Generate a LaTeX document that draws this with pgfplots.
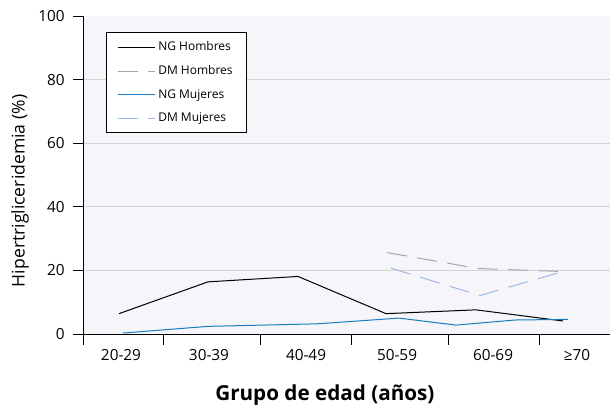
\documentclass[border=0pt]{standalone}
\usepackage{fontspec}
\setmainfont{Open Sans}
\usepackage{pgfplots}
\pgfplotsset{compat=1.18}

\definecolor{bgc}{HTML}{F5F5FA}
\definecolor{gridc}{HTML}{D4D4D4}
\definecolor{ngm}{HTML}{1A7CC1}
\definecolor{dmm}{HTML}{9DB7E2}
\definecolor{dmh}{HTML}{A6A6A6}

% x values are in picture pixels (axis runs 84..610)
\pgfplotstableread{
x y
119 6.4
208 16.4
298 18.1
386 6.4
476 7.6
563 4.1
}\nghombres
\pgfplotstableread{
x y
387 25.6
478 20.6
558 19.7
}\dmhombres
\pgfplotstableread{
x y
123 0.3
208 2.4
317 3.2
399 5.0
456 2.8
515 4.4
568 4.6
}\ngmujeres
\pgfplotstableread{
x y
391 20.7
480 12.1
558 19.2
}\dmmujeres

\begin{document}
\begin{tikzpicture}
\begin{axis}[
    scale only axis,
    width=394.5pt, height=238.5pt,
    xmin=84, xmax=610,
    ymin=0, ymax=100,
    axis x line*=bottom,
    axis y line*=left,
    axis line style={-, black, line width=0.75pt},
    axis background/.style={fill=bgc},
    tick align=outside,
    xtick={121,209,306,397,493,577},
    xticklabels={20-29,30-39,40-49,50-59,60-69,≥70},
    major x tick style={draw=none},
    minor xtick={84,163,260,351,448,539},
    minor x tick style={black, line width=0.75pt},
    minor tick length=8pt,
    ytick={0,20,...,100},
    major tick length=8pt,
    major y tick style={black, line width=0.75pt},
    extra y ticks={20,40,60,80},
    extra y tick labels={},
    extra y tick style={ymajorgrids=true, major tick length=0pt},
    major grid style={gridc, line width=0.75pt},
    /pgf/number format/assume math mode=true,
    tick label style={font=\fontsize{11.5}{13}\selectfont},
    yticklabel style={xshift=-3pt},
    xlabel={\textbf{Grupo de edad (años)}},
    xlabel style={at={(axis description cs:0.458,0)}, anchor=center, yshift=-45.75pt, font=\fontsize{15.5}{18}\selectfont},
    ylabel={Hipertrigliceridemia (\%)},
    ylabel style={at={(axis description cs:0,0.45)}, anchor=center, yshift=48pt, font=\fontsize{13.2}{15}\selectfont},
    legend style={at={(axis description cs:0.042,0.95)}, anchor=north west,
        draw=black, line width=0.75pt, fill=white,
        font=\fontsize{9}{11}\selectfont,
        inner xsep=8pt, inner ysep=5pt,
        row sep=5.5pt},
    legend image post style={line width=0.75pt},
    legend cell align=left,
    every axis legend/.append style={/tikz/every even column/.style={column sep=2pt}},
    legend image code/.code={\draw[#1] (0pt,0pt) -- (28pt,0pt);},
    clip=false,
]
\coordinate (O) at (rel axis cs:0,0);
\addplot[black, line width=0.75pt] table {\nghombres};
\addlegendentry{NG Hombres}
\addplot[dmh, line width=0.75pt, dash pattern=on 15pt off 8pt] table {\dmhombres};
\addlegendentry{DM Hombres}
\addplot[ngm, line width=0.75pt] table {\ngmujeres};
\addlegendentry{NG Mujeres}
\addplot[dmm, line width=0.75pt, dash pattern=on 15pt off 8pt] table {\dmmujeres};
\addlegendentry{DM Mujeres}
\end{axis}
\pgfresetboundingbox
\path[use as bounding box] (O) ++(-63pt,-55.5pt) rectangle ++(457.5pt,306pt);
\end{tikzpicture}
\end{document}
